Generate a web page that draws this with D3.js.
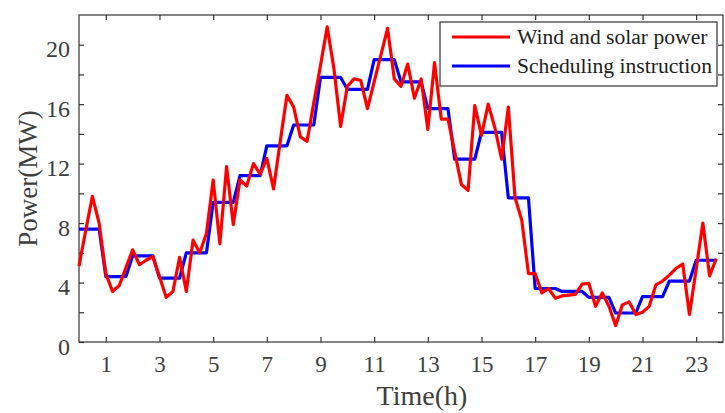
<!DOCTYPE html>
<html>
<head>
<meta charset="utf-8">
<script src="https://cdn.jsdelivr.net/npm/d3@7"></script>
<style>
  body { margin: 0; background: #fff; }
  svg { display: block; font-family: "Liberation Serif", "Times New Roman", serif; }
</style>
</head>
<body>
<svg id="chart" width="725" height="413"></svg>
<script>
// time step of the samples (h)
var step = 0.25;

// wind and solar power (MW), one value every 15 min
var windSolar = [
  5.1, 7.5, 9.8, 8.0, 4.6, 3.4, 3.8, 5.0, 6.2, 5.2, 5.5, 5.75,
  4.4, 3.0, 3.4, 5.7, 3.4, 6.85, 6.0, 7.3, 10.9, 6.6, 11.8, 7.9,
  10.9, 10.5, 12.0, 11.3, 12.35, 10.3, 13.5, 16.6, 15.8, 13.8, 13.5, 16.1,
  18.6, 21.2, 18.4, 14.5, 17.2, 17.7, 17.6, 15.7, 17.5, 19.3, 21.1, 17.7,
  17.2, 18.7, 16.4, 17.7, 14.3, 18.8, 15.0, 15.0, 12.8, 10.6, 10.2, 15.9,
  13.9, 16.0, 14.4, 12.3, 15.8, 9.7, 8.2, 4.6, 4.6, 3.3, 3.6, 2.95,
  3.1, 3.15, 3.2, 3.9, 3.95, 2.4, 3.3, 2.4, 1.1, 2.5, 2.7, 1.85,
  2.0, 2.4, 3.85, 4.1, 4.5, 4.95, 5.25, 1.85, 4.9, 8.0, 4.45, 5.6
];

// scheduling instruction (MW), one value per hour
var schedule = [
  7.6, 4.4, 5.8, 4.3, 6.0, 9.4, 11.2, 13.2, 14.6, 17.8, 17.0, 19.0,
  17.5, 15.7, 12.3, 14.1, 9.7, 3.6, 3.4, 3.0, 1.95, 3.05, 4.1, 5.5
];

var xTicks = [1, 3, 5, 7, 9, 11, 13, 15, 17, 19, 21, 23];
var yTicks = [0, 2, 4, 6, 8, 10, 12, 14, 16, 18, 20];
var yLabels = [0, 4, 8, 12, 16, 20];

var mLeft = 79, mRight = 723, mTop = 15, mBottom = 342;

var svg = d3.select('#chart');

var x = d3.scaleLinear().domain([0, 24]).range([mLeft, mRight]);
var y = d3.scaleLinear().domain([0, 22]).range([mBottom, mTop]);

var axisColor = '#333';
var tickColor = '#404040';

// frame
svg.append('rect')
  .attr('x', mLeft).attr('y', mTop)
  .attr('width', mRight - mLeft).attr('height', mBottom - mTop)
  .attr('fill', 'none').attr('stroke', axisColor).attr('stroke-width', 1.2);

function styleAxis(g) {
  g.attr('font-family', null).attr('font-size', null);
  g.select('.domain').remove();
  g.selectAll('.tick line').attr('stroke', axisColor).attr('stroke-width', 1.2);
}

var gx = svg.append('g').attr('transform', 'translate(0,' + mBottom + ')')
  .call(d3.axisBottom(x).tickValues(xTicks).tickSize(-5).tickPadding(14).tickFormat(d3.format('d')));
gx.call(styleAxis);
gx.selectAll('text').attr('font-size', 23).attr('fill', tickColor);

svg.append('g').attr('transform', 'translate(0,' + mTop + ')')
  .call(d3.axisTop(x).tickValues(xTicks).tickSize(-5).tickFormat(''))
  .call(styleAxis);

var gy = svg.append('g').attr('transform', 'translate(' + mLeft + ',0)')
  .call(d3.axisLeft(y).tickValues(yTicks).tickSize(-5).tickPadding(9)
    .tickFormat(function (d) { return yLabels.indexOf(d) >= 0 ? d : ''; }));
gy.call(styleAxis);
gy.selectAll('text').attr('font-size', 24).attr('fill', tickColor).attr('dy', '0.5em');

svg.append('g').attr('transform', 'translate(' + mRight + ',0)')
  .call(d3.axisRight(y).tickValues(yTicks).tickSize(-5).tickFormat(''))
  .call(styleAxis);

// axis titles
svg.append('text')
  .attr('x', (mLeft + mRight) / 2 + 21).attr('y', 405)
  .attr('text-anchor', 'middle').attr('font-size', 28).attr('fill', tickColor)
  .text('Time(h)');

svg.append('text')
  .attr('transform', 'translate(37,' + (mBottom + mTop) / 2 + ') rotate(-90)')
  .attr('text-anchor', 'middle').attr('font-size', 27).attr('fill', tickColor)
  .text('Power(MW)');

// series
var schedPts = [];
schedule.forEach(function (v, h) {
  for (var k = 0; k < 4; k++) schedPts.push([h + k * step, v]);
});
var windPts = windSolar.map(function (v, i) { return [i * step, v]; });

var line = d3.line().x(function (d) { return x(d[0]); }).y(function (d) { return y(d[1]); });

svg.append('path').datum(schedPts).attr('d', line)
  .attr('fill', 'none').attr('stroke', '#0000ff').attr('stroke-width', 3.2).attr('stroke-linejoin', 'round');
svg.append('path').datum(windPts).attr('d', line)
  .attr('fill', 'none').attr('stroke', '#ff0000').attr('stroke-width', 3.2).attr('stroke-linejoin', 'round');

// legend
var legend = [
  { name: 'Wind and solar power', color: '#ff0000' },
  { name: 'Scheduling instruction', color: '#0000ff' }
];
var lg = svg.append('g');
lg.append('rect').attr('x', 440).attr('y', 22).attr('width', 277).attr('height', 64)
  .attr('fill', '#fff').attr('stroke', axisColor).attr('stroke-width', 1.2);
legend.forEach(function (d, i) {
  var ly = 37 + i * 29;
  lg.append('line').attr('x1', 452).attr('x2', 510).attr('y1', ly).attr('y2', ly)
    .attr('stroke', d.color).attr('stroke-width', 3.2);
  lg.append('text').attr('x', 517).attr('y', ly + 7).attr('font-size', 21.6).attr('fill', '#222')
    .text(d.name);
});
</script>
</body>
</html>
